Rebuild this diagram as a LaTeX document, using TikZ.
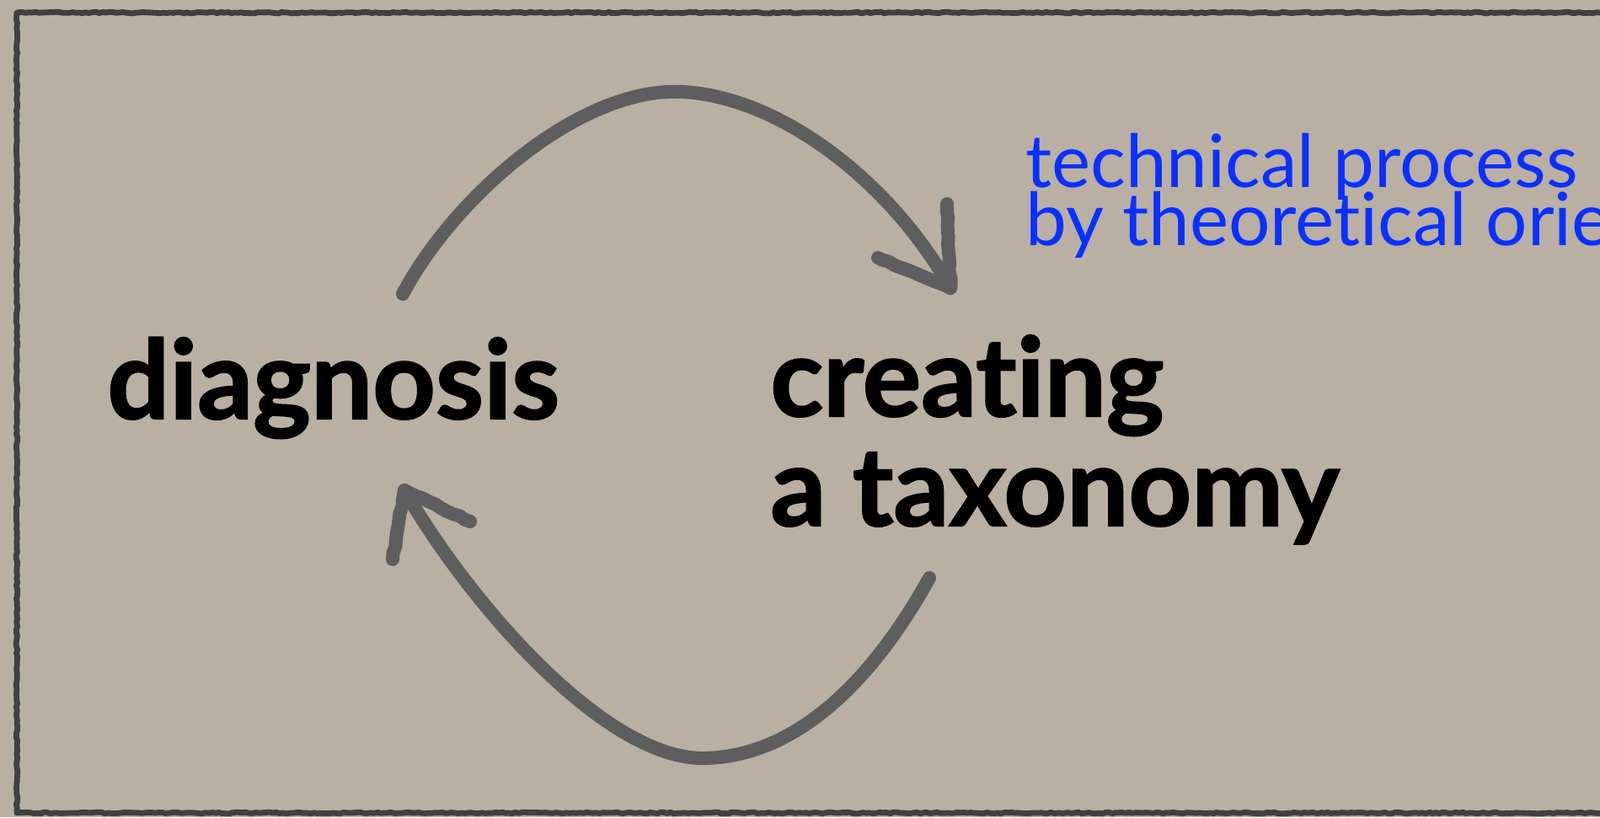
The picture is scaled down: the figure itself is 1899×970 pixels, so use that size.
\documentclass[tikz,border=0pt]{standalone}
\usepackage{fontspec}
\setmainfont{Lato}[Ligatures={NoCommon,NoContextual}, BoldFeatures={FakeBold=1.6}]
\usetikzlibrary{decorations.pathmorphing}
\definecolor{paper}{HTML}{B9AFA3}
\definecolor{frameink}{HTML}{404040}
\definecolor{chalk}{HTML}{5E5E5E}
\definecolor{blueink}{HTML}{0A30FF}
\begin{document}
\begin{tikzpicture}[x=0.5pt,y=-0.5pt,
  chalkcurve/.style={draw=chalk, line width=8pt, line cap=round, line join=round},
  chalkline/.style={chalkcurve,
    decorate, decoration={random steps, segment length=4pt, amplitude=0.5pt}},
  frameline/.style={draw=frameink, line width=3.4pt, line join=round,
    decorate, decoration={random steps, segment length=2pt, amplitude=0.4pt}},
  bigword/.style={anchor=base west, inner sep=0pt, text=black,
    font=\fontsize{65pt}{65pt}\selectfont\bfseries},
  blueword/.style={anchor=base west, inner sep=0pt, text=blueink,
    font=\fontsize{43.6pt}{43.6pt}\selectfont}]
\useasboundingbox (0,0) rectangle (1899,970);
\clip (0,0) rectangle (1899,970);
\fill[paper] (0,0) rectangle (1899,970);
% frame (runs off the right edge)
\draw[frameline] (1930,15) -- (20,15) -- (20,965) -- (1930,965);

% words
\node[bigword] (diag) at (127,497) {diagnosis};
\node[bigword] (creat) at (914,494) {creating};
\node[bigword] (taxo) at (914,624) {a taxonomy};

\node[blueword] (tech) at (1217,222) {technical process};
\node[blueword] (orient) at (1217,291) {by theoretical orie};

% top arrow: diagnosis -> creating a taxonomy
\coordinate (ttail) at (478,349);
\coordinate (tpeak) at (811,109);
\coordinate (ttip) at (1128,342);
\coordinate (tbarbA) at (1124,242);
\coordinate (tbarbB) at (1042,306);
\draw[chalkcurve] (ttail) .. controls (540,232) and (690,102) .. (tpeak)
   .. controls (930,116) and (1060,220) .. (ttip);
\draw[chalkline] (tbarbA) -- (ttip) -- (tbarbB);

% bottom arrow: creating a taxonomy -> diagnosis
\coordinate (btail) at (1103,686);
\coordinate (bbottom) at (836,900);
\coordinate (btip) at (480,582);
\coordinate (bbarbA) at (466,664);
\coordinate (bbarbB) at (558,619);
\draw[chalkcurve] (btail) .. controls (1040,800) and (950,898) .. (bbottom)
   .. controls (720,902) and (560,720) .. (btip);
\draw[chalkline] (bbarbA) -- (btip) -- (bbarbB);
\end{tikzpicture}
\end{document}
